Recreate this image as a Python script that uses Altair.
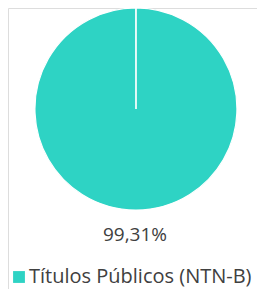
import altair as alt
import pandas as pd

categories = ["Títulos Públicos (NTN-B)", "Outros"]
values = [99.31, 0.02]
labels = ["99,31%"]
colors = ["#2ED3C4", "#2ED3C4"]

df = pd.DataFrame({"cat": categories, "val": values, "order": [0, 1]})
lab = pd.DataFrame({"label": labels})

arc = alt.Chart(df).mark_arc(outerRadius=101, stroke="white", strokeWidth=1.2).encode(
    theta=alt.Theta("val:Q", stack=True),
    order=alt.Order("order:Q"),
    color=alt.Color(
        "cat:N",
        scale=alt.Scale(domain=categories, range=colors),
        legend=alt.Legend(
            values=[categories[0]],
            title=None,
            orient="none",
            legendX=1,
            legendY=259,
            symbolType="square",
            symbolSize=140,
            symbolStrokeWidth=0,
            labelFont="Open Sans",
            labelFontSize=20,
            labelColor="#404040",
            labelOffset=0,
            padding=0,
            labelLimit=400,
        ),
    ),
    x=alt.value(128),
    y=alt.value(101),
)

text = alt.Chart(lab).mark_text(
    font="Open Sans", fontSize=19, color="#404040", baseline="alphabetic", align="center"
).encode(
    text="label:N",
    x=alt.value(127),
    y=alt.value(233),
)

chart = alt.layer(arc, text).properties(
    width=249,
    height=281,
    autosize=alt.AutoSizeParams(type="none"),
    padding=0,
).configure_view(stroke=None).configure(background="white")

chart.save("out.html", embed_options={"renderer": "svg", "actions": False})
